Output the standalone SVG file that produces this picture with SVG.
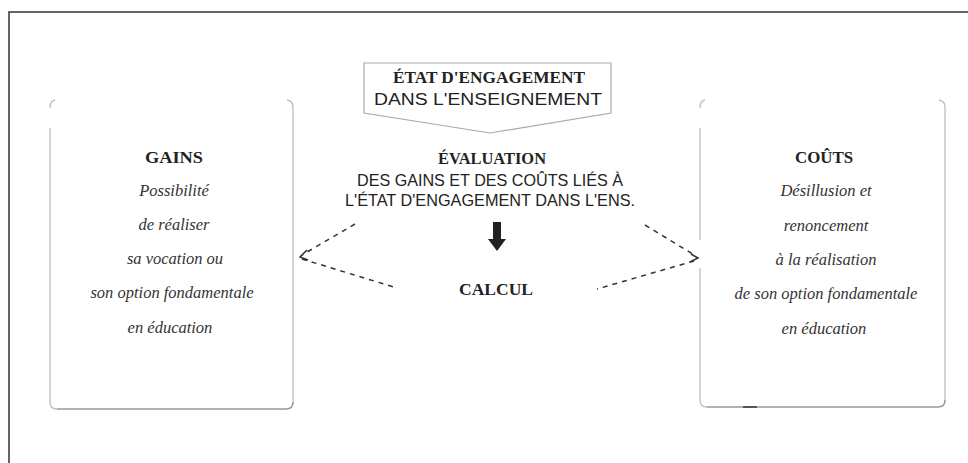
<svg xmlns="http://www.w3.org/2000/svg" width="968" height="463" viewBox="0 0 968 463">
<style>
.serifb{font-family:"Liberation Serif","Times New Roman",serif;font-weight:bold;fill:#222;text-anchor:middle}
.ital{font-family:"Liberation Serif","Times New Roman",serif;font-style:italic;fill:#333;text-anchor:middle;font-size:16.5px}
.sans{font-family:"Liberation Sans",Arial,sans-serif;fill:#222;text-anchor:middle}
.edge{fill:none;stroke:#bdbdbd;stroke-width:1.3}
.bottom{fill:none;stroke:#999;stroke-width:1.6}
.dash{fill:none;stroke:#333;stroke-width:1.5;stroke-dasharray:5,5}
.head{fill:none;stroke:#333;stroke-width:1.5}
</style>
<rect width="968" height="463" fill="#fff"/>
<g id="frame">
<path d="M9,463 V12 H968" fill="none" stroke="#333" stroke-width="1.5"/>
</g>
<g id="etat">
<path d="M364,63 H611 V113 L490,133 L364,113 Z" fill="#fff" stroke="#aaa" stroke-width="1.2"/>
<text class="serifb" x="489" y="83" font-size="17" textLength="192" lengthAdjust="spacingAndGlyphs">ÉTAT D'ENGAGEMENT</text>
<text class="sans" x="488" y="105" font-size="16" textLength="228" lengthAdjust="spacingAndGlyphs">DANS L'ENSEIGNEMENT</text>
</g>
<g id="gains">
<path class="edge" d="M50,108 Q50,101 55,100"/>
<path class="edge" d="M50,128 V402 Q50,409 57,409"/>
<path class="bottom" d="M57,409 H286 Q293,409 293,402"/>
<path class="edge" d="M287,100 Q293,101 293,107 V402"/>
<text class="serifb" x="174" y="163" font-size="16" textLength="58" lengthAdjust="spacingAndGlyphs">GAINS</text>
<text class="ital" x="174" y="196">Possibilité</text>
<text class="ital" x="174" y="230">de réaliser</text>
<text class="ital" x="175" y="264">sa vocation ou</text>
<text class="ital" x="172" y="298">son option fondamentale</text>
<text class="ital" x="170" y="333">en éducation</text>
</g>
<g id="couts">
<path class="edge" d="M700,108 Q700,101 705,100"/>
<path class="edge" d="M700,128 V240 M700,268 V400 Q700,407 707,407"/>
<path class="bottom" d="M707,407 H938 Q945,407 945,400"/>
<path class="edge" d="M939,100 Q945,101 945,107 V400"/>
<path d="M743,407 H757" stroke="#555" stroke-width="2"/>
<text class="serifb" x="824" y="163" font-size="16" textLength="58" lengthAdjust="spacingAndGlyphs">COÛTS</text>
<text class="ital" x="826" y="196">Désillusion et</text>
<text class="ital" x="826" y="231">renoncement</text>
<text class="ital" x="826" y="265">à la réalisation</text>
<text class="ital" x="826" y="299">de son option fondamentale</text>
<text class="ital" x="824" y="334">en éducation</text>
</g>
<g id="evaluation">
<text class="serifb" x="492" y="164" font-size="17" textLength="108" lengthAdjust="spacingAndGlyphs">ÉVALUATION</text>
<text class="sans" x="490" y="186" font-size="17" textLength="266" lengthAdjust="spacingAndGlyphs">DES GAINS ET DES COÛTS LIÉS À</text>
<text class="sans" x="490" y="206" font-size="17" textLength="290" lengthAdjust="spacingAndGlyphs">L'ÉTAT D'ENGAGEMENT DANS L'ENS.</text>
</g>
<g id="calcul">
<text class="serifb" x="496" y="295" font-size="17" textLength="74" lengthAdjust="spacingAndGlyphs">CALCUL</text>
</g>
<g id="connectors">
<path d="M493,222 h8 v17 h5 l-9,12 l-9,-12 h5 z" fill="#222"/>
<path class="dash" d="M355,224 L302,255"/>
<path class="dash" d="M302,259 L397,288"/>
<path class="head" d="M307,250 L300,257 L308,260"/>
<path class="dash" d="M645,225 L696,256"/>
<path class="dash" d="M694,261 L597,289"/>
<path class="head" d="M691,254 L698,258 L690,262"/>
</g>
</svg>
